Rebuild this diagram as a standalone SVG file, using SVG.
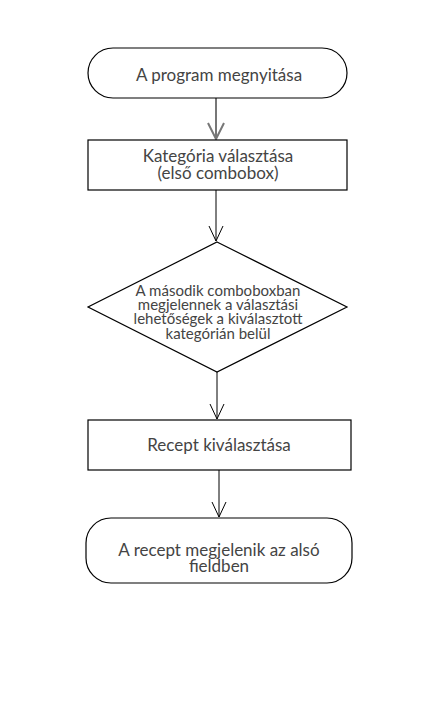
<svg xmlns="http://www.w3.org/2000/svg" width="431" height="704" viewBox="0 0 431 704">
<defs>
<style>
.n{fill:#fff;stroke:#000;stroke-width:1.2}
.t{font-family:Lato,"Open Sans",sans-serif;fill:#444;text-anchor:middle}
.big{font-size:17px}
.sm{font-size:15px}
.c{stroke:#000;stroke-width:1;fill:none}
.c1{stroke:#777;stroke-width:2;fill:none}
</style>
</defs>
<rect width="431" height="704" fill="#fff"/>
<g id="connectors">
<path class="c1" d="M216 98V139M208 123L216 139L224 123"/>
<path class="c" d="M216 190V241M209 226L216 241L223 226"/>
<path class="c" d="M217 372V419M210 404L217 419L224 404"/>
<path class="c" d="M219 470V517M212 502L219 517L226 502"/>
</g>
<g id="start">
<rect class="n" x="88" y="48" width="259" height="50" rx="25"/>
<text class="t big" x="219" y="81">A program megnyitása</text>
</g>
<g id="category">
<rect class="n" x="88" y="140" width="259" height="50"/>
<text class="t big" x="218" y="161.5">Kategória választása</text>
<text class="t big" x="218" y="178.5">(első combobox)</text>
</g>
<g id="decision">
<polygon class="n" points="217,242 347,307 217,372 88,307"/>
<text class="t sm" x="218" y="295.7">A második comboboxban</text>
<text class="t sm" x="218" y="310">megjelennek a választási</text>
<text class="t sm" x="218" y="324.3">lehetőségek a kiválasztott</text>
<text class="t sm" x="218" y="338.5">kategórián belül</text>
</g>
<g id="recipe">
<rect class="n" x="88" y="420" width="263" height="50"/>
<text class="t big" x="219" y="450.7">Recept kiválasztása</text>
</g>
<g id="end">
<rect class="n" x="86" y="518" width="266" height="65" rx="25"/>
<text class="t big" x="219" y="555.5">A recept megjelenik az alsó</text>
<text class="t big" x="219" y="571.5">fieldben</text>
</g>
</svg>
